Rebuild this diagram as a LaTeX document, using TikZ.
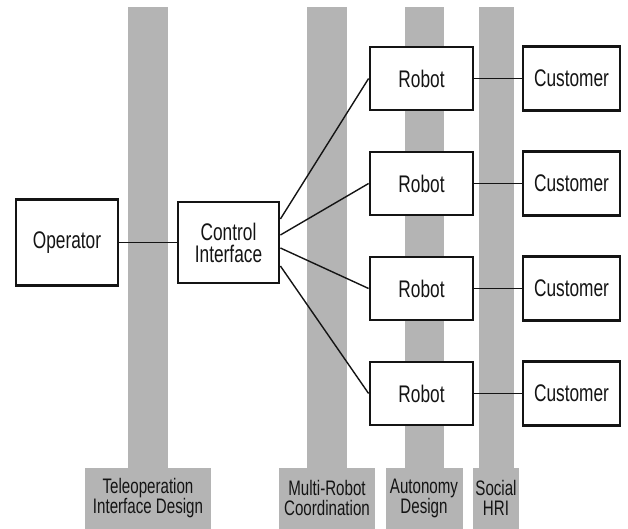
\documentclass[tikz,border=0pt]{standalone}
\usepackage{fontspec}
\setmainfont[FakeStretch=0.72]{Liberation Sans}
\usepackage{tikz}
\usetikzlibrary{positioning,calc}
\definecolor{ink}{HTML}{141414}
\definecolor{bargray}{HTML}{B4B4B4}
\tikzset{
  unitbox/.style={draw=ink,fill=white,line width=2.8pt,
                  minimum width=103pt,minimum height=63pt,
                  align=center,font=\fontsize{24}{22}\selectfont,
                  text=ink,inner sep=0pt},
  arealabel/.style={fill=bargray,minimum height=61pt,inner sep=0pt,
                    align=center,font=\fontsize{21}{20}\selectfont,text=ink},
  link/.style={draw=ink,line width=1.4pt}
}

\begin{document}
\begin{tikzpicture}[x=1pt,y=1pt]
  \useasboundingbox (0,0) rectangle (628,529);
  % grey research-area bars, each with its label at the foot
  \foreach \n/\cx/\sw/\bw/\txt in {tele/148/40/126/{Teleoperation\\Interface Design},
      multi/327/40/96/{Multi-Robot\\Coordination},
      auto/424/39/77/{Autonomy\\Design},
      hri/496/35/46/{Social\\HRI}} {
    \fill[bargray] (\cx-\sw/2,61) rectangle (\cx+\sw/2,522);
    \node[arealabel,minimum width=\bw pt,anchor=south] (\n) at (\cx,0) {\txt};
  }
  % operator side
  \node[unitbox,minimum width=102pt,minimum height=86pt] (operator) at (67,286.5) {Operator};
  \node[unitbox,minimum width=101pt,minimum height=81pt] (ctrl) at (228.5,286.5) {Control\\Interface};
  \draw[link] (operator) -- (ctrl);
  % robots and their customers
  \foreach \i/\y/\dy in {1/450.5/23.5,2/345.5/7.5,3/240.5/-5.5,4/135.5/-23.5} {
    \node[unitbox] (robot\i) at (421.5,\y) {Robot};
    \node[unitbox,minimum width=97pt,minimum height=64pt] (cust\i) at (571.5,\y) {Customer};
    \draw[link] (robot\i) -- (cust\i);
    \draw[link] ($(ctrl.east)+(0,\dy)$) -- (robot\i.west);
  }
\end{tikzpicture}
\end{document}
